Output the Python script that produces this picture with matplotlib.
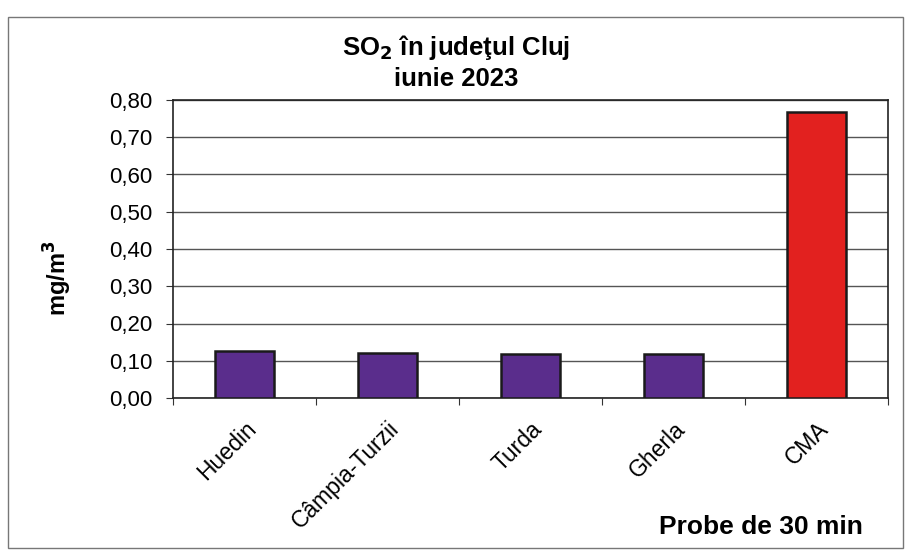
import matplotlib.pyplot as plt
from matplotlib.patches import Rectangle
from matplotlib.ticker import FuncFormatter

plt.rcParams['font.family'] = ['Liberation Sans', 'DejaVu Sans']

# SO2 values, 30 min samples (mg/m3)
stations = ['Huedin', 'Câmpia-Turzii', 'Turda', 'Gherla', 'CMA']
so2_values = [0.125, 0.12, 0.117, 0.117, 0.767]
bar_colors = ['#5a2d8c', '#5a2d8c', '#5a2d8c', '#5a2d8c', '#e2211f']

fig = plt.figure(figsize=(9.06, 5.58), dpi=100)
fig.patches.append(Rectangle((8 / 906, 10 / 558), 895 / 906, 531 / 558,
                             transform=fig.transFigure, fill=False,
                             edgecolor='#777777', linewidth=1.0))

ax = fig.add_axes([173 / 906, 160 / 558, 715 / 906, 298 / 558])
x = range(len(stations))
ax.bar(x, so2_values, width=0.41, color=bar_colors, edgecolor='#1a1a1a',
       linewidth=1.8, zorder=3)

ax.set_xlim(-0.5, len(stations) - 0.5)
ax.set_ylim(0, 0.8)
ax.set_yticks([i / 10 for i in range(9)])
ax.yaxis.set_major_formatter(FuncFormatter(lambda v, p: f'{v:.2f}'.replace('.', ',')))
ax.grid(axis='y', color='#555555', linewidth=1.0, zorder=0)

ax.set_xticks([i - 0.5 for i in range(len(stations) + 1)], minor=False)
ax.set_xticklabels([])
ax.set_xticks(list(x), minor=True)
ax.set_xticklabels(stations, minor=True, rotation=45, ha='right',
                   rotation_mode='anchor', fontsize=16.5)
ax.tick_params(axis='x', which='minor', length=0, pad=14)
ax.tick_params(axis='x', which='major', length=5, direction='out', color='#333333')
ax.tick_params(axis='y', labelsize=16, length=5, pad=10, color='#333333')

for side in ['top', 'right', 'left', 'bottom']:
    ax.spines[side].set_color('#222222')
    ax.spines[side].set_linewidth(1.2)

fig.text(58 / 906, 1 - 278 / 558, 'mg/m$^\\mathbf{3}$', rotation=90, ha='center',
         va='center', fontsize=17, fontweight='bold')

fig.text(0.503, 1 - 47 / 558, 'SO$_\\mathbf{2}$ în judeţul Cluj', ha='center',
         va='center', fontsize=18.5, fontweight='bold')
fig.text(0.503, 1 - 79 / 558, 'iunie 2023', ha='center', va='center',
         fontsize=18.5, fontweight='bold')
fig.text(761 / 906, 1 - 527 / 558, 'Probe de 30 min', ha='center', va='center',
         fontsize=19, fontweight='bold')

fig.savefig('out.png', dpi=100)
